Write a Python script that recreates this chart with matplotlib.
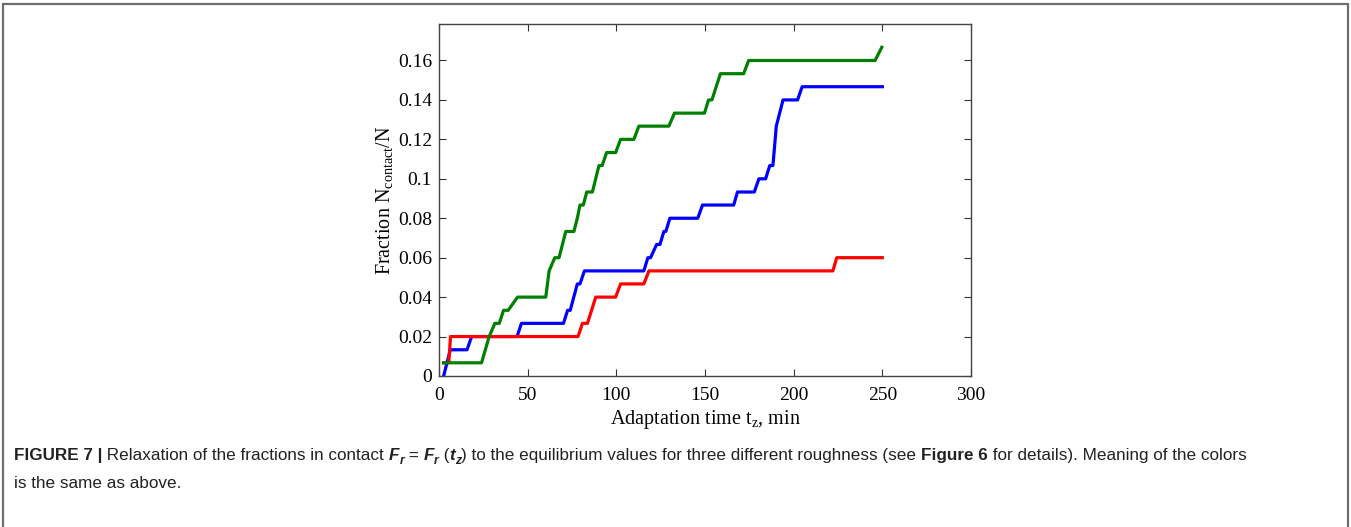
import matplotlib
matplotlib.use("Agg")
import matplotlib.pyplot as plt
from matplotlib.patches import Rectangle

plt.rcParams["mathtext.fontset"] = "custom"
plt.rcParams["mathtext.rm"] = "Liberation Serif"
plt.rcParams["mathtext.it"] = "Liberation Serif:italic"
plt.rcParams["mathtext.bf"] = "Liberation Serif:bold"

# step curves (time in min, fraction in contact)
t_blue = [2.6, 6.4, 15.8, 18.4, 44.0, 46.5, 70.2, 72.5, 74.0, 76.0, 78.0, 79.5, 82.0,
          115.5, 117.8, 119.3, 122.7, 124.6, 126.8, 127.9, 130.2, 145.9, 148.6, 166.2,
          168.3, 177.8, 180.4, 184.2, 186.5, 188.3, 190.2, 194.0, 202.2, 204.8, 250.0]
f_blue = [0.0, 0.0133, 0.0133, 0.02, 0.02, 0.0267, 0.0267, 0.0333, 0.0333, 0.04, 0.0467,
          0.0467, 0.0533, 0.0533, 0.06, 0.06, 0.0667, 0.0667, 0.0733, 0.0733, 0.08, 0.08,
          0.0867, 0.0867, 0.0933, 0.0933, 0.1, 0.1, 0.1067, 0.1067, 0.1267, 0.14, 0.14,
          0.1467, 0.1467]

t_red = [2.6, 5.5, 6.5, 78.4, 80.9, 83.7, 88.4, 99.6, 102.4, 115.5, 118.4, 222.1, 224.3, 250.0]
f_red = [0.0067, 0.0067, 0.02, 0.02, 0.0267, 0.0267, 0.04, 0.04, 0.0467, 0.0467, 0.0533,
         0.0533, 0.06, 0.06]

t_green = [2.6, 24.0, 28.3, 31.5, 34.0, 36.4, 39.0, 44.3, 60.2, 62.1, 65.3, 67.7, 71.5,
           76.1, 78.0, 79.5, 81.4, 83.3, 86.5, 90.2, 92.0, 94.5, 99.6, 102.4, 109.9, 112.7,
           129.6, 132.8, 149.7, 152.0, 153.9, 158.7, 171.8, 174.6, 245.9, 249.7]
f_green = [0.0067, 0.0067, 0.02, 0.0267, 0.0267, 0.0333, 0.0333, 0.04, 0.04, 0.0533, 0.06,
           0.06, 0.0733, 0.0733, 0.08, 0.0867, 0.0867, 0.0933, 0.0933, 0.1067, 0.1067,
           0.1133, 0.1133, 0.12, 0.12, 0.1267, 0.1267, 0.1333, 0.1333, 0.14, 0.14, 0.1533,
           0.1533, 0.16, 0.16, 0.1667]

xticks = [0, 50, 100, 150, 200, 250, 300]
yticks = [0, 0.02, 0.04, 0.06, 0.08, 0.1, 0.12, 0.14, 0.16]
ytick_labels = ["0", "0.02", "0.04", "0.06", "0.08", "0.1", "0.12", "0.14", "0.16"]

W, H = 1351, 527
fig = plt.figure(figsize=(W / 100, H / 100), dpi=100)

# outer frame of the figure panel (open at the bottom)
fig.patches.append(Rectangle((3 / W, -0.1), 1345 / W, 1 - 4 / H + 0.1, transform=fig.transFigure,
                             fill=False, edgecolor="#6e6e6e", linewidth=1.6))

ax = fig.add_axes([439 / W, 1 - 376 / H, 532 / W, 352 / H])
ax.plot(t_blue, f_blue, color="#0000ff", lw=2.3)
ax.plot(t_red, f_red, color="#ff0000", lw=2.3)
ax.plot(t_green, f_green, color="#008000", lw=2.3)

ax.set_xlim(0, 300)
ax.set_ylim(0, 0.1785)
ax.set_xticks(xticks)
ax.set_yticks(yticks)
ax.set_yticklabels(ytick_labels)
ax.tick_params(direction="in", top=True, right=True, length=5, width=0.8, color="#333333",
               labelsize=14)
ax.tick_params(axis="x", pad=8)
ax.tick_params(axis="y", pad=5)
for lab in ax.get_xticklabels() + ax.get_yticklabels():
    lab.set_family("Liberation Serif")
for s in ax.spines.values():
    s.set_color("#444444")
    s.set_linewidth(1.0)

ax.set_xlabel(r"Adaptation time t$_{\mathrm{z}}$, min", family="Liberation Serif", fontsize=14.5,
              labelpad=3)
ax.set_ylabel(r"Fraction N$_{\mathrm{contact}}$/N", family="Liberation Serif", fontsize=14.5,
              labelpad=2)

# caption, laid out run by run
cap_font = "Liberation Sans"
renderer = fig.canvas.get_renderer()


def run_width(s, **kw):
    t1 = fig.text(0, 0, s + "|", **kw)
    t2 = fig.text(0, 0, "|", **kw)
    w = t1.get_window_extent(renderer).width - t2.get_window_extent(renderer).width
    t1.remove()
    t2.remove()
    return w


def put_runs(x_px, base_px, runs, size=12.3):
    x = x_px
    for s, weight, style, sub in runs:
        fs = size * 0.72 if sub else size
        dy = 4 if sub else 0
        kw = dict(family=cap_font, fontsize=fs, fontweight=weight, fontstyle=style,
                  color="#222222")
        fig.text(x / W, 1 - (base_px + dy) / H, s, va="baseline", ha="left", **kw)
        x += run_width(s, **kw)


line1 = [
    ("FIGURE 7 |", "bold", "normal", False),
    (" Relaxation of the fractions in contact ", "normal", "normal", False),
    ("F", "bold", "italic", False), ("r", "bold", "italic", True),
    (" = ", "normal", "normal", False),
    ("F", "bold", "italic", False), ("r", "bold", "italic", True),
    (" (", "normal", "normal", False),
    ("t", "bold", "italic", False), ("z", "bold", "italic", True),
    (") to the equilibrium values for three different roughness (see ", "normal", "normal", False),
    ("Figure 6", "bold", "normal", False),
    (" for details). Meaning of the colors", "normal", "normal", False),
]
line2 = [("is the same as above.", "normal", "normal", False)]
put_runs(14, 460, line1)
put_runs(14, 488, line2)

fig.savefig("out.png", dpi=100)
